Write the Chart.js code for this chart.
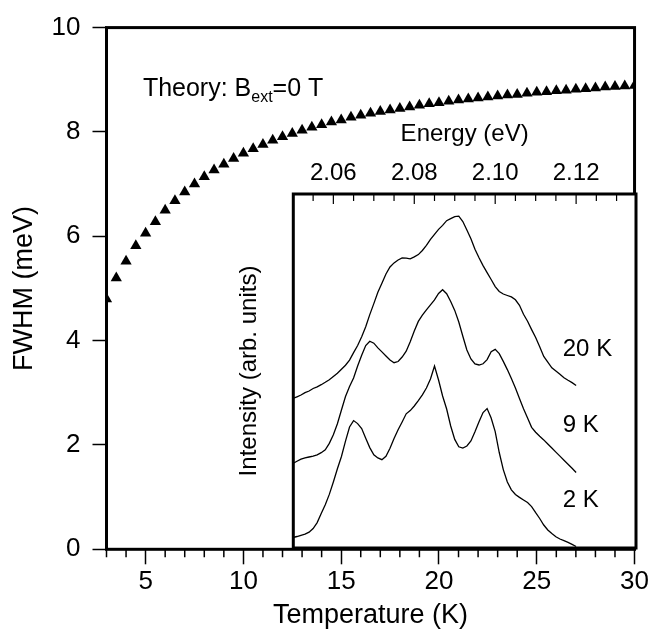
<!DOCTYPE html>
<html>
<head>
<meta charset="utf-8">
<script src="https://cdn.jsdelivr.net/npm/chart.js@4"></script>
<style>
html, body { margin: 0; padding: 0; background: #fff; }
#wrap { position: relative; width: 651px; height: 635px; }
#main { position: absolute; left: 0; top: 0; }
#inset { position: absolute; left: 231px; top: 100px; }
</style>
</head>
<body>
<div id="wrap">
<canvas id="main" width="651" height="635"></canvas>
<canvas id="inset" width="420" height="535"></canvas>
</div>
<script>
// main plot: theory FWHM vs temperature
var temperature = [3, 3.5, 4, 4.5, 5, 5.5, 6, 6.5, 7, 7.5, 8, 8.5, 9, 9.5, 10, 10.5, 11, 11.5, 12, 12.5,
  13, 13.5, 14, 14.5, 15, 15.5, 16, 16.5, 17, 17.5, 18, 18.5, 19, 19.5, 20, 20.5, 21, 21.5, 22, 22.5,
  23, 23.5, 24, 24.5, 25, 25.5, 26, 26.5, 27, 27.5, 28, 28.5, 29, 29.5, 30];
var fwhm = [4.80, 5.20, 5.52, 5.82, 6.06, 6.28, 6.50, 6.68, 6.85, 7.00, 7.14, 7.27, 7.38, 7.49, 7.59, 7.68, 7.76, 7.84, 7.91, 7.97,
  8.03, 8.09, 8.14, 8.19, 8.23, 8.28, 8.32, 8.36, 8.39, 8.42, 8.45, 8.48, 8.51, 8.54, 8.56, 8.59, 8.61, 8.63, 8.65, 8.67,
  8.69, 8.71, 8.72, 8.74, 8.76, 8.77, 8.79, 8.80, 8.82, 8.83, 8.84, 8.86, 8.87, 8.88, 8.89];
var xTickValues = [5, 10, 15, 20, 25, 30];
var xMinorTicks = [3, 4, 6, 7, 8, 9, 11, 12, 13, 14, 16, 17, 18, 19, 21, 22, 23, 24, 26, 27, 28, 29];
var yTickValues = [0, 2, 4, 6, 8, 10];

// inset: PL spectra (arb. units)
var energy = [2.050, 2.051, 2.052, 2.053, 2.054, 2.055, 2.056, 2.057, 2.058, 2.059,
  2.060, 2.061, 2.062, 2.063, 2.064, 2.065, 2.066, 2.067, 2.068, 2.069,
  2.070, 2.071, 2.072, 2.073, 2.074, 2.075, 2.076, 2.077, 2.078, 2.079,
  2.080, 2.081, 2.082, 2.083, 2.084, 2.085, 2.086, 2.087, 2.088, 2.089,
  2.090, 2.091, 2.092, 2.093, 2.094, 2.095, 2.096, 2.097, 2.098, 2.099,
  2.100, 2.101, 2.102, 2.103, 2.104, 2.105, 2.106, 2.107, 2.108, 2.109,
  2.110, 2.111, 2.112, 2.113, 2.114, 2.115, 2.116, 2.117, 2.118, 2.119, 2.120];
var int2K = [10.5, 11.5, 12.7, 13.8, 15.8, 19.5, 25.4, 34.4, 43.2, 53.6,
  66, 79.2, 91.5, 106.9, 121, 127.4, 124.4, 119.4, 109.7, 100.4,
  93.3, 90.1, 88.3, 91.7, 99.7, 109.4, 118.2, 126, 134.2, 137.4,
  142, 147.4, 153.2, 160, 169, 182, 168, 152, 139, 122,
  108.6, 101.2, 100, 102, 107, 116.2, 126.2, 135.4, 139.4, 130,
  116.4, 95.5, 78.4, 66, 58.2, 53.5, 50.6, 48, 45.5, 41.4,
  35.3, 29.5, 23, 18, 14.4, 11.3, 9, 7.3, 5.7, 3.6, 1.5];
var int9K = [84.5, 86.7, 88.8, 90.2, 91, 91.8, 93.2, 95.3, 98.2, 104.6,
  113.2, 124.2, 138, 151.5, 161.6, 170, 182, 192.7, 202.4, 206.8,
  204.8, 200.1, 196.1, 192, 188, 185.3, 186.5, 191, 196.8, 206.3,
  217, 226.6, 232.8, 238.1, 243.1, 248.1, 254.5, 258.3, 254.3, 246.5,
  237.6, 226, 211.8, 198, 189, 184, 183, 184.2, 188.4, 196.2,
  198.6, 194.4, 186.6, 178.4, 169.4, 160, 149.5, 139.2, 130, 120.7,
  115.8, 111.7, 108.1, 104, 100, 95.9, 91.9, 87.8, 83.8, 79.7, 75.5];
var int20K = [149.5, 151.2, 153, 155.4, 157, 159.5, 161.2, 163.3, 165.7, 168.3,
  171.5, 174.7, 178.7, 182.8, 187.9, 195.4, 202.5, 211.3, 221.2, 233.4,
  244.4, 255.7, 264.8, 274, 281, 285.1, 288, 290, 289.9, 289.2,
  291.1, 293.4, 297.5, 302.7, 308.6, 313.7, 318.6, 322.6, 327.3, 329.4,
  331.4, 331.8, 326.5, 318, 309.2, 298.8, 290.2, 282.4, 275.4, 268.5,
  261.4, 256.5, 254, 252.5, 251.1, 248.2, 242.7, 233.8, 226.7, 218.4,
  210.5, 201.2, 191.5, 185.8, 180.2, 177, 173.7, 170.2, 167.7, 165.4, 162.5];
var energyTickValues = [2.06, 2.08, 2.10, 2.12];
var energyMinorTicks = [2.055, 2.065, 2.07, 2.075, 2.085, 2.09, 2.095, 2.105, 2.11, 2.115, 2.125, 2.13];
var curveLabels = ['20 K', '9 K', '2 K'];
var labelEnergy = [2.1167, 2.1167, 2.1167];
var labelIntensity = [199, 123, 47.5];

var FONT = '"Liberation Sans", Arial, Helvetica, sans-serif';
Chart.defaults.font.family = FONT;
Chart.defaults.color = '#000';

function pts(xs, ys) {
  return xs.map(function (v, i) { return { x: v, y: ys[i] }; });
}

var mainFrame = {
  id: 'mainFrame',
  afterDatasetsDraw: function (chart) {
    var a = chart.chartArea, ctx = chart.ctx;
    var xs = chart.scales.x, ys = chart.scales.y;
    ctx.save();
    ctx.strokeStyle = '#000';
    ctx.lineWidth = 1.5;
    ctx.beginPath();
    xMinorTicks.forEach(function (v) {
      var px = xs.getPixelForValue(v);
      ctx.moveTo(px, a.bottom);
      ctx.lineTo(px, a.bottom + 8);
    });
    ctx.stroke();
    ctx.lineWidth = 3;
    ctx.strokeRect(a.left, a.top, a.right - a.left, a.bottom - a.top);

    // Theory: B_ext=0 T
    var tx = xs.getPixelForValue(4.86), ty = ys.getPixelForValue(8.68);
    ctx.fillStyle = '#000';
    ctx.textBaseline = 'alphabetic';
    ctx.textAlign = 'left';
    ctx.font = '25px ' + FONT;
    ctx.fillText('Theory: B', tx, ty);
    tx += ctx.measureText('Theory: B').width;
    ctx.font = '16px ' + FONT;
    ctx.fillText('ext', tx, ty + 6);
    tx += ctx.measureText('ext').width;
    ctx.font = '25px ' + FONT;
    ctx.fillText('=0 T', tx, ty);
    ctx.restore();
  }
};

new Chart(document.getElementById('main'), {
  type: 'scatter',
  data: {
    datasets: [{
      data: pts(temperature, fwhm),
      pointStyle: 'triangle',
      pointRadius: 6.5,
      backgroundColor: '#000',
      borderColor: '#000',
      borderWidth: 0,
      clip: 0
    }]
  },
  options: {
    responsive: false,
    animation: false,
    events: [],
    layout: { padding: { top: 19, right: 15, left: 0, bottom: 0 } },
    plugins: { legend: { display: false }, tooltip: { enabled: false } },
    scales: {
      x: {
        type: 'linear', min: 3, max: 30,
        afterFit: function (s) { s.height = 85.7; },
        afterBuildTicks: function (s) { s.ticks = xTickValues.map(function (v) { return { value: v }; }); },
        grid: { drawOnChartArea: false, tickLength: 15, tickWidth: 1.5, tickColor: '#000' },
        border: { display: false },
        ticks: { padding: 2, font: { size: 26 }, color: '#000', maxRotation: 0, autoSkip: false },
        title: { display: true, text: 'Temperature (K)', font: { size: 27 }, color: '#000', padding: { top: 0, bottom: 3 } }
      },
      y: {
        type: 'linear', min: 0, max: 10,
        afterFit: function (s) { s.width = 106.5; },
        afterBuildTicks: function (s) { s.ticks = yTickValues.map(function (v) { return { value: v }; }); },
        grid: { drawOnChartArea: false, tickLength: 14, tickWidth: 1.5, tickColor: '#000' },
        border: { display: false },
        ticks: { padding: 12, font: { size: 26 }, color: '#000' },
        title: { display: true, text: 'FWHM (meV)', font: { size: 27 }, color: '#000', padding: { top: 8, bottom: 0 } }
      }
    }
  },
  plugins: [mainFrame]
});

var insetBox = {
  id: 'insetBox',
  beforeDraw: function (chart) {
    var a = chart.chartArea, ctx = chart.ctx;
    ctx.save();
    ctx.fillStyle = '#fff';
    ctx.fillRect(a.left, a.top, a.right - a.left, a.bottom - a.top);
    ctx.restore();
  },
  afterDatasetsDraw: function (chart) {
    var a = chart.chartArea, ctx = chart.ctx;
    var xs = chart.scales.x, ys = chart.scales.y;
    ctx.save();
    ctx.strokeStyle = '#000';
    ctx.lineWidth = 1.2;
    ctx.beginPath();
    energyTickValues.forEach(function (v) {
      var px = xs.getPixelForValue(v);
      ctx.moveTo(px, a.top);
      ctx.lineTo(px, a.top + 10);
    });
    energyMinorTicks.forEach(function (v) {
      var px = xs.getPixelForValue(v);
      ctx.moveTo(px, a.top);
      ctx.lineTo(px, a.top + 7);
    });
    ctx.stroke();
    ctx.lineWidth = 3;
    ctx.strokeRect(a.left, a.top, a.right - a.left, a.bottom - a.top);

    ctx.fillStyle = '#000';
    ctx.font = '24px ' + FONT;
    ctx.textAlign = 'left';
    ctx.textBaseline = 'middle';
    curveLabels.forEach(function (t, i) {
      ctx.fillText(t, xs.getPixelForValue(labelEnergy[i]), ys.getPixelForValue(labelIntensity[i]));
    });
    ctx.restore();
  }
};

function spectrum(vals) {
  return {
    data: pts(energy, vals),
    showLine: true,
    pointRadius: 0,
    borderColor: '#000',
    borderWidth: 1.3,
    tension: 0
  };
}

new Chart(document.getElementById('inset'), {
  type: 'scatter',
  data: { datasets: [spectrum(int2K), spectrum(int9K), spectrum(int20K)] },
  options: {
    responsive: false,
    animation: false,
    events: [],
    layout: { padding: { top: 0, right: 15, bottom: 87, left: 0 } },
    plugins: { legend: { display: false }, tooltip: { enabled: false } },
    scales: {
      x: {
        type: 'linear', position: 'top', min: 2.0501, max: 2.1348,
        afterFit: function (s) { s.height = 94; },
        afterBuildTicks: function (s) { s.ticks = energyTickValues.map(function (v) { return { value: v }; }); },
        grid: { display: false, drawTicks: false, tickLength: 0 },
        border: { display: false },
        ticks: { padding: 6, font: { size: 24 }, color: '#000', maxRotation: 0, autoSkip: false,
          callback: function (v) { return v.toFixed(2); } },
        title: { display: true, text: 'Energy (eV)', font: { size: 24 }, color: '#000', padding: { top: 20, bottom: 0 } }
      },
      y: {
        type: 'linear', min: 0, max: 354,
        afterFit: function (s) { s.width = 62.3; },
        grid: { display: false, drawTicks: false },
        border: { display: false },
        ticks: { display: false },
        title: { display: true, text: 'Intensity (arb. units)', font: { size: 24 }, color: '#000', padding: { top: 4, bottom: 0 } }
      }
    }
  },
  plugins: [insetBox]
});
</script>
</body>
</html>
